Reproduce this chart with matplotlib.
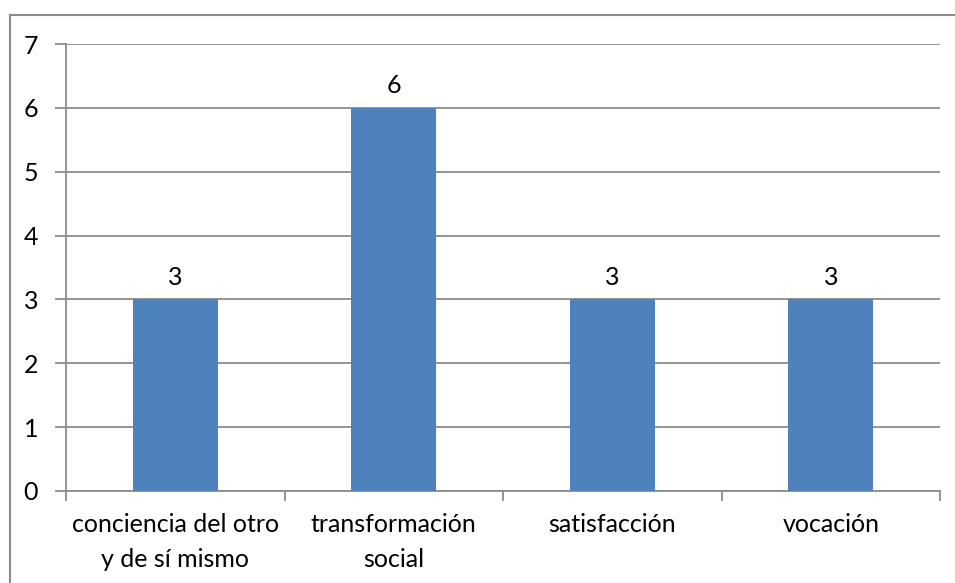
import matplotlib.pyplot as plt
from matplotlib.patches import Rectangle

categories = ['conciencia del otro\ny de sí mismo', 'transformación\nsocial', 'satisfacción', 'vocación']
values = [3, 6, 3, 3]

plt.rcParams['font.family'] = ['Lato', 'DejaVu Sans']

fig = plt.figure(figsize=(9.55, 5.83), dpi=100)
ax = fig.add_axes([66 / 955, 1 - 491 / 583, 874 / 955, 447 / 583])

# outer chart border (runs off the right and bottom edges)
fig.patches.append(Rectangle((10 / 955, -0.1), 2, (583 - 15) / 583 + 0.1,
                             transform=fig.transFigure, fill=False,
                             edgecolor='#8c8c8c', linewidth=1.5, clip_on=False))

x = range(len(categories))
bars = ax.bar(x, values, width=0.39, color='#4F81BD', zorder=3)
for b, v in zip(bars, values):
    ax.text(b.get_x() + b.get_width() / 2, v + 0.17, str(v), ha='center', va='bottom', fontsize=18)

ax.set_xlim(-0.5, len(categories) - 0.5)
ax.set_ylim(0, 7)
ax.set_yticks(range(8))
ax.yaxis.grid(True, color='#8c8c8c', linewidth=1.3, zorder=0)

ax.set_xticks([i - 0.5 for i in range(len(categories) + 1)])
ax.set_xticklabels([])
ax.set_xticks(list(x), minor=True)
ax.set_xticklabels(categories, minor=True, fontsize=18, linespacing=1.6)
ax.tick_params(axis='x', which='minor', length=0, pad=16)
ax.tick_params(axis='x', which='major', length=7, width=1.3, color='#8c8c8c')
ax.tick_params(axis='y', length=8, width=1.3, color='#8c8c8c', labelsize=18, pad=12)

for s in ['top', 'right']:
    ax.spines[s].set_visible(False)
for s in ['left', 'bottom']:
    ax.spines[s].set_color('#8c8c8c')
    ax.spines[s].set_linewidth(1.3)

fig.savefig('out.png', dpi=100)
